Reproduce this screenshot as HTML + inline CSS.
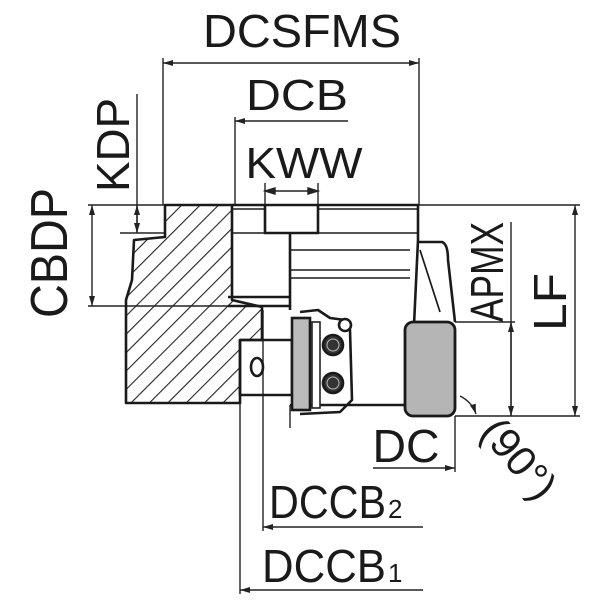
<!DOCTYPE html>
<html><head><meta charset="utf-8"><style>
html,body{margin:0;padding:0;background:#fff}
svg{display:block}
text{font-family:"Liberation Sans",sans-serif;fill:#1a1a1a}
</style></head><body>
<svg width="600" height="600" viewBox="0 0 600 600" xmlns="http://www.w3.org/2000/svg">
<defs>
<marker id="a" viewBox="0 0 10 6" refX="10" refY="3" markerWidth="10" markerHeight="6" orient="auto-start-reverse" markerUnits="userSpaceOnUse"><path d="M0,0 L10,3 L0,6 z" fill="#222"/></marker>
<pattern id="h" patternUnits="userSpaceOnUse" width="13" height="13" patternTransform="rotate(45)"><line x1="0" y1="0" x2="0" y2="13" stroke="#222" stroke-width="2.2"/></pattern>
<clipPath id="hc"><path d="M165,205 L232,205 L232,300 L262,307 L262,340 L240,340 L240,403 L126,403 L126,300 L132,280 L134,240 L165,237 Z"/></clipPath>
</defs>
<g stroke="#222" stroke-width="1.4" fill="none">
<line x1="163" y1="58" x2="163" y2="205"/>
<line x1="419" y1="58" x2="419" y2="205"/>
<line x1="235" y1="117" x2="235" y2="205"/>
<line x1="265" y1="183" x2="265" y2="205"/>
<line x1="318" y1="183" x2="318" y2="205"/>
<line x1="137" y1="94" x2="137" y2="232"/>
<line x1="88" y1="205" x2="580" y2="205"/>
<line x1="88" y1="306" x2="240" y2="306"/>
<line x1="120" y1="233" x2="165" y2="233"/>
<line x1="455" y1="322" x2="515" y2="322"/>
<line x1="455" y1="416" x2="580" y2="416"/>
<line x1="455" y1="416" x2="455" y2="472"/>
<line x1="263" y1="310" x2="263" y2="531"/>
<line x1="240" y1="395" x2="240" y2="594"/>
<line x1="290" y1="405" x2="290" y2="428"/>
<line x1="163" y1="63" x2="419" y2="63" marker-start="url(#a)" marker-end="url(#a)"/>
<line x1="348" y1="121" x2="235" y2="121" marker-end="url(#a)"/>
<line x1="265" y1="191" x2="318" y2="191"/>
<path d="M265,191 l10,-3 v6z M318,191 l-10,-3 v6z" fill="#222"/>
<line x1="137" y1="205" x2="137" y2="233" marker-start="url(#a)" marker-end="url(#a)"/>
<line x1="92" y1="205" x2="92" y2="306" marker-start="url(#a)" marker-end="url(#a)"/>
<line x1="511" y1="222" x2="511" y2="416" />
<line x1="511" y1="322" x2="511" y2="416" marker-start="url(#a)" marker-end="url(#a)"/>
<line x1="575" y1="205" x2="575" y2="416" marker-start="url(#a)" marker-end="url(#a)"/>
<line x1="373" y1="468" x2="455" y2="468" marker-end="url(#a)"/>
<line x1="423" y1="527" x2="263" y2="527" marker-end="url(#a)"/>
<line x1="423" y1="590" x2="240" y2="590" marker-end="url(#a)"/>
<path d="M460,396 Q472,402 476,414" marker-end="url(#a)"/>
</g>
<rect x="100" y="200" width="170" height="210" fill="url(#h)" clip-path="url(#hc)"/>
<g stroke="#1a1a1a" fill="none" stroke-width="2.6" stroke-linejoin="round">
<path d="M165,205 L232,205 L232,300 L262,307 L262,340 L240,340 L240,403 L126,403 L126,300 L132,280 L134,240 L165,237 Z"/>
<path d="M232,205 H418 V240"/>
<path d="M232,209 H265 M318,209 H418" stroke-width="1.5"/>
<path d="M265,205 V233 H318 V205" />
<path d="M232,233 H265 M318,233 H418" stroke-width="1.5"/>
<line x1="290" y1="233" x2="290" y2="310"/>
<path d="M290,250 H410 M290,270 H410 M290,278 H410" stroke-width="1.5"/>
<path d="M228,297 H290 M228,306 H290"/>
<path d="M418,240 L410,410"/>
<path d="M418,242 L442,242 Q448,244 448,260 L455,322"/>
<path d="M420,250 L440,312" stroke-width="1.7"/>
<line x1="290" y1="405" x2="410" y2="405"/>
<rect x="240" y="340" width="52" height="55"/>
<ellipse cx="257" cy="367" rx="6" ry="9"/>
<path d="M292,352 A12,14 0 0 1 292,380" stroke-width="6"/>
<path d="M300,312 L318,310 L330,318 L345,320 L350,330 L352,400 L340,412 L300,414"/>
<circle cx="333" cy="345" r="10" fill="#333"/>
<circle cx="333" cy="383" r="10" fill="#333"/>
<circle cx="333" cy="345" r="6" stroke="#bbb" stroke-width="1"/>
<circle cx="333" cy="383" r="6" stroke="#bbb" stroke-width="1"/>
<circle cx="345" cy="325" r="6" fill="#fff"/>
</g>
<rect x="292" y="318" width="18" height="92" fill="#bbb" stroke="#1a1a1a" stroke-width="2.6"/>
<rect x="312" y="322" width="8" height="86" fill="#fff" stroke="#222" stroke-width="1.6"/>
<rect x="405" y="322" width="50" height="94" rx="8" fill="#b5b5b5" stroke="#1a1a1a" stroke-width="2.8"/>
<text x="302" y="47" font-size="46" text-anchor="middle" textLength="198" lengthAdjust="spacingAndGlyphs">DCSFMS</text>
<text x="297" y="110" font-size="44" text-anchor="middle" textLength="102" lengthAdjust="spacingAndGlyphs">DCB</text>
<text x="304" y="178" font-size="44" text-anchor="middle" textLength="117" lengthAdjust="spacingAndGlyphs">KWW</text>
<text transform="translate(129,145) rotate(-90)" font-size="46" text-anchor="middle" textLength="94" lengthAdjust="spacingAndGlyphs">KDP</text>
<text transform="translate(67,253) rotate(-90)" font-size="52" text-anchor="middle" textLength="130" lengthAdjust="spacingAndGlyphs">CBDP</text>
<text transform="translate(503,272) rotate(-90)" font-size="46" text-anchor="middle" textLength="100" lengthAdjust="spacingAndGlyphs">APMX</text>
<text transform="translate(566,302) rotate(-90)" font-size="46" text-anchor="middle" textLength="58" lengthAdjust="spacingAndGlyphs">LF</text>
<text x="406" y="462" font-size="46" text-anchor="middle" textLength="67" lengthAdjust="spacingAndGlyphs">DC</text>
<text transform="translate(508,468) rotate(50)" font-size="42" text-anchor="middle">(90°)</text>
<text x="269" y="518" font-size="46" textLength="117" lengthAdjust="spacingAndGlyphs">DCCB</text><text x="388" y="518" font-size="26">2</text>
<text x="262" y="582" font-size="46" textLength="124" lengthAdjust="spacingAndGlyphs">DCCB</text><text x="388" y="582" font-size="26">1</text>
</svg>
</body></html>
